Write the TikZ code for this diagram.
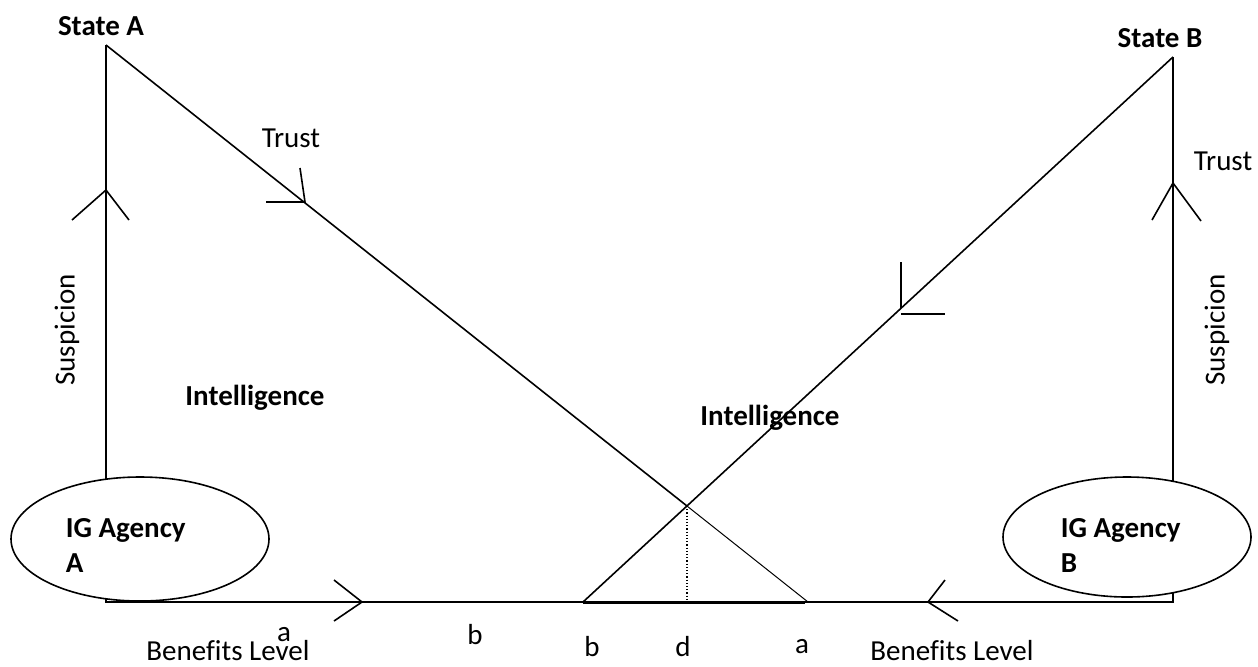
\documentclass[tikz,border=0pt]{standalone}
\usepackage{fontspec}
\setmainfont[Ligatures=NoCommon]{Carlito}
\usetikzlibrary{shapes.geometric}

\begin{document}
\begin{tikzpicture}[x=0.5pt, y=-0.5pt, line width=0.8pt,
    every node/.style={font=\fontsize{14.5}{17.5}\selectfont},
    bold/.style={font=\fontsize{14.5}{17.5}\selectfont\bfseries},
    agency/.style={ellipse, draw, fill=white, minimum width=129pt, minimum height=62pt, inner sep=0pt}]

    \useasboundingbox (0,0) rectangle (1258,666);

    % Corners
    \coordinate (sA) at (106,45);
    \coordinate (sB) at (1173,57);
    \coordinate (bA) at (106,602);
    \coordinate (bB) at (1173,602);
    \coordinate (footB) at (583,602);
    \coordinate (footA) at (808,602);
    \coordinate (cross) at (intersection of sA--footA and footB--sB);

    % Lines
    \draw (sA) -- (bA) -- (bB) -- (sB);
    \draw (sA) -- (cross);
    \draw[line width=0.5pt] (cross) -- (footA);
    \draw (footB) -- (sB);
    \draw[line width=1.5pt] (footB) -- (805,602);
    \draw[densely dotted, line width=0.6pt] (cross) -- (cross |- bA);

    % Arrow heads
    \draw (72,220) -- (106,190) -- (129,220);
    \draw (266,202) -- (305,202) -- (300,168);
    \draw (1152,220) -- (1173,183) -- (1201,221);
    \draw (901,262) -- (901,308);
    \draw (901,314) -- (945,314);
    \draw (334,580) -- (362,602) -- (334,621);
    \draw (945,580) -- (928,602) -- (958,621);

    % Agencies
    \node[agency] (agA) at (140,539) {};
    \node[agency, minimum width=124pt, minimum height=60pt] (agB) at (1127,537) {};
    \node[bold, anchor=west, align=left, inner sep=0pt] (agAtext) at (65,545) {IG Agency\\A};
    \node[bold, anchor=west, align=left, inner sep=0pt] (agBtext) at (1060,545) {IG Agency\\B};

    % Labels
    \node[bold] (stateA) at (101,26) {State A};
    \node[bold] (stateB) at (1160,38) {State B};
    \node (trustA) at (291,138) {Trust};
    \node (trustB) at (1223,161) {Trust};
    \node[rotate=90] (suspA) at (67,330) {Suspicion};
    \node[rotate=90] (suspB) at (1217,330) {Suspicion};
    \node[bold] (intelA) at (255,398) {Intelligence};
    \node[bold] (intelB) at (770,418) {Intelligence};

    % Benefits axis
    \node (a1) at (284,635) {a};
    \node (benA) at (228,651) {Benefits Level};
    \node (b1) at (475,635) {b};
    \node (b2) at (592,647) {b};
    \node (d) at (683,647) {d};
    \node (a2) at (802,647) {a};
    \node (benB) at (952,651) {Benefits Level};

\end{tikzpicture}
\end{document}
